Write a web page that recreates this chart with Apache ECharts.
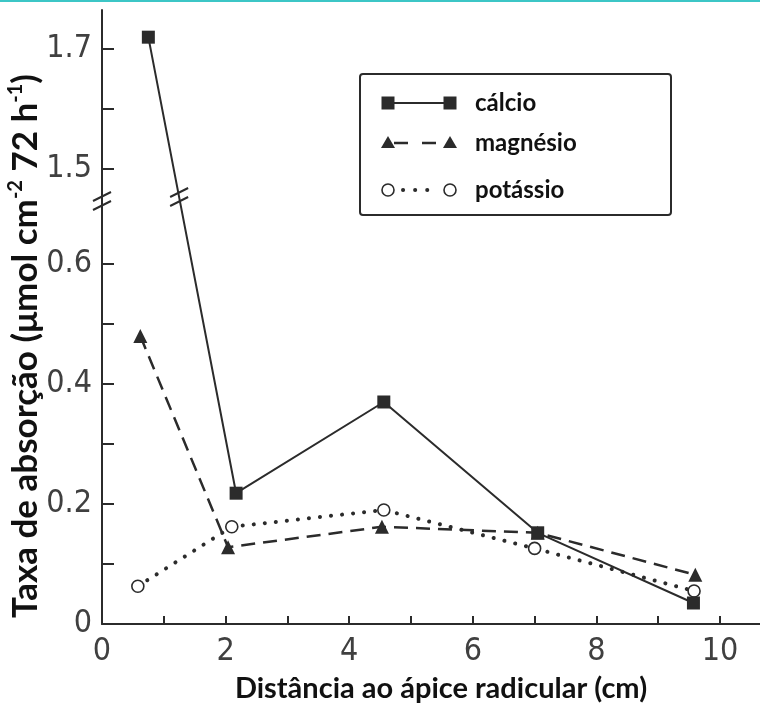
<!DOCTYPE html>
<html>
<head>
<meta charset="utf-8">
<title>Taxa de absorção</title>
<script src="https://cdn.jsdelivr.net/npm/echarts@6/dist/echarts.min.js"></script>
<style>
  html, body { margin: 0; padding: 0; background: #fff; }
  #chart { width: 760px; height: 706px; }
</style>
</head>
<body>
<div id="chart"></div>
<script>
// valores: distância (cm) e taxa de absorção
const calcioX = [0.75, 2.17, 4.56, 7.05, 9.57];
const calcioY = [1.72, 0.218, 0.37, 0.152, 0.035];
const magnesioX = [0.62, 2.04, 4.53, 7.05, 9.6];
const magnesioY = [0.48, 0.128, 0.162, 0.152, 0.082];
const potassioX = [0.58, 2.1, 4.56, 7.0, 9.58];
const potassioY = [0.063, 0.162, 0.19, 0.126, 0.055];

const xLabelValues = [0, 2, 4, 6, 8, 10];
const xTickValues = [0, 1, 2, 3, 4, 5, 6, 7, 8, 9, 10];
const yLabelValues = [0, 0.2, 0.4, 0.6, 1.5, 1.7];
const yTickValues = [0, 0.1, 0.2, 0.3, 0.4, 0.5, 0.6, 1.5, 1.6, 1.7];

// eixo y interrompido entre 0.6 e 1.5
const OFFSET = 0.742;
const BREAK_DISP = 0.705;
const toDisp = v => (v > 1.0 ? v - OFFSET : v);
const fromDisp = d => (d > BREAK_DISP ? d + OFFSET : d);

const INK = '#2b2b2b';
const tickFont = "'Liberation Sans Narrow', 'DejaVu Sans Condensed', sans-serif";
const boldFont = "Lato, 'Open Sans', sans-serif";

const pairs = (xs, ys) => xs.map((x, i) => [x, toDisp(ys[i])]);

const chart = echarts.init(document.getElementById('chart'));

chart.setOption({
  animation: false,
  backgroundColor: '#fff',
  grid: { left: 102, right: 0, top: 10, bottom: 82, outerBoundsMode: 'none', containLabel: false },
  xAxis: {
    type: 'value',
    min: 0,
    max: 10.647,
    name: 'Distância ao ápice radicular (cm)',
    nameLocation: 'middle',
    nameGap: 50,
    nameMoveOverlap: false,
    nameTextStyle: {
      fontFamily: boldFont, fontWeight: 'bold', fontSize: 29, color: '#111',
      padding: [0, 0, 0, 20]
    },
    splitLine: { show: false },
    axisLine: { lineStyle: { color: INK, width: 2 } },
    axisTick: {
      inside: true, length: 8, customValues: xTickValues,
      lineStyle: { color: INK, width: 2 }
    },
    axisLabel: {
      customValues: xLabelValues, margin: 12,
      fontFamily: tickFont, fontSize: 32, color: '#404040'
    }
  },
  yAxis: {
    type: 'value',
    min: 0,
    max: 1.0233,
    name: 'Taxa de absorção (μmol cm{sup|-2} 72 h{sup|-1})',
    nameLocation: 'middle',
    nameGap: 56,
    nameMoveOverlap: false,
    nameTextStyle: {
      fontFamily: boldFont, fontWeight: 'bold', fontSize: 35, color: '#111',
      lineHeight: 40,
      padding: [0, 58, 0, 0],
      rich: {
        sup: {
          fontFamily: boldFont, fontWeight: 'bold', fontSize: 20, color: '#111',
          verticalAlign: 'top', lineHeight: 22
        }
      }
    },
    splitLine: { show: false },
    axisLine: { lineStyle: { color: INK, width: 2 } },
    axisTick: {
      inside: true, length: 12, customValues: yTickValues.map(toDisp),
      lineStyle: { color: INK, width: 2 }
    },
    axisLabel: {
      customValues: yLabelValues.map(toDisp), margin: 10,
      fontFamily: tickFont, fontSize: 32, color: '#404040',
      formatter: d => {
        const v = fromDisp(d);
        return Math.abs(v) < 1e-9 ? '0' : v.toFixed(1);
      }
    }
  },
  series: [
    {
      name: 'potássio',
      type: 'line',
      data: pairs(potassioX, potassioY),
      symbol: 'circle',
      symbolSize: 12,
      itemStyle: { color: '#fff', borderColor: INK, borderWidth: 1.6 },
      lineStyle: { color: INK, width: 4, type: [0.1, 11], cap: 'round' },
      z: 2
    },
    {
      name: 'magnésio',
      type: 'line',
      data: pairs(magnesioX, magnesioY),
      symbol: 'triangle',
      symbolSize: 14,
      itemStyle: { color: INK },
      lineStyle: { color: INK, width: 2.5, type: [14, 8] },
      z: 3
    },
    {
      name: 'cálcio',
      type: 'line',
      data: pairs(calcioX, calcioY),
      symbol: 'rect',
      symbolSize: 13,
      itemStyle: { color: INK },
      lineStyle: { color: INK, width: 2 },
      z: 4
    }
  ]
});

// marcas de interrupção "//" sobre o eixo e sobre a linha do cálcio
function breakMark(cx, cy) {
  const d = 4.5;
  const line = dy => ({
    type: 'line',
    shape: { x1: cx - 9, y1: cy + dy + 4.5, x2: cx + 9, y2: cy + dy - 4.5 },
    style: { stroke: INK, lineWidth: 2 }
  });
  return {
    type: 'group',
    z: 100,
    children: [
      {
        type: 'polygon',
        shape: { points: [[cx - 8, cy - d + 4], [cx + 8, cy - d - 4], [cx + 8, cy + d - 4], [cx - 8, cy + d + 4]] },
        style: { fill: '#fff' }
      },
      line(-d),
      line(d)
    ]
  };
}

const axisBreak = chart.convertToPixel({ gridIndex: 0 }, [0, BREAK_DISP]);
const p0 = chart.convertToPixel({ gridIndex: 0 }, [calcioX[0], toDisp(calcioY[0])]);
const p1 = chart.convertToPixel({ gridIndex: 0 }, [calcioX[1], toDisp(calcioY[1])]);
const lineBreakY = axisBreak[1] - 4;
const t = (lineBreakY - p0[1]) / (p1[1] - p0[1]);
const lineBreakX = p0[0] + t * (p1[0] - p0[0]);

// legenda desenhada como na figura (símbolo, traço, símbolo)
const lgX1 = 388, lgX2 = 450, lgText = 475;
const rows = [103, 143, 190];
const labelStyle = y => ({
  text: '', x: lgText, y: y, fill: '#111',
  font: 'bold 24px ' + boldFont, verticalAlign: 'middle'
});

chart.setOption({
  graphic: [
    { type: 'rect', left: 0, top: 0, shape: { width: 760, height: 2 }, style: { fill: '#3cc6c6' } },
    breakMark(axisBreak[0], axisBreak[1]),
    breakMark(lineBreakX, lineBreakY),
    {
      type: 'rect', z: 90,
      shape: { x: 360, y: 74, width: 311, height: 141, r: 3 },
      style: { fill: '#fff', stroke: INK, lineWidth: 2 }
    },
    // cálcio
    { type: 'line', z: 91, shape: { x1: lgX1, y1: rows[0], x2: lgX2, y2: rows[0] }, style: { stroke: INK, lineWidth: 2 } },
    { type: 'rect', z: 92, shape: { x: lgX1 - 6.5, y: rows[0] - 6.5, width: 13, height: 13 }, style: { fill: INK } },
    { type: 'rect', z: 92, shape: { x: lgX2 - 6.5, y: rows[0] - 6.5, width: 13, height: 13 }, style: { fill: INK } },
    { type: 'text', z: 92, style: Object.assign(labelStyle(rows[0]), { text: 'cálcio' }) },
    // magnésio
    { type: 'line', z: 91, shape: { x1: 394, y1: rows[1], x2: 437, y2: rows[1] }, style: { stroke: INK, lineWidth: 2.5, lineDash: [14, 14] } },
    { type: 'polygon', z: 92, shape: { points: [[lgX1, rows[1] - 7], [lgX1 + 7, rows[1] + 5], [lgX1 - 7, rows[1] + 5]] }, style: { fill: INK } },
    { type: 'polygon', z: 92, shape: { points: [[lgX2, rows[1] - 7], [lgX2 + 7, rows[1] + 5], [lgX2 - 7, rows[1] + 5]] }, style: { fill: INK } },
    { type: 'text', z: 92, style: Object.assign(labelStyle(rows[1]), { text: 'magnésio' }) },
    // potássio
    { type: 'line', z: 91, shape: { x1: 403, y1: rows[2], x2: 439, y2: rows[2] }, style: { stroke: INK, lineWidth: 4, lineDash: [0.1, 12], lineCap: 'round' } },
    { type: 'circle', z: 92, shape: { cx: lgX1, cy: rows[2], r: 6 }, style: { fill: '#fff', stroke: INK, lineWidth: 1.6 } },
    { type: 'circle', z: 92, shape: { cx: lgX2, cy: rows[2], r: 6 }, style: { fill: '#fff', stroke: INK, lineWidth: 1.6 } },
    { type: 'text', z: 92, style: Object.assign(labelStyle(rows[2]), { text: 'potássio' }) }
  ]
});
</script>
</body>
</html>
